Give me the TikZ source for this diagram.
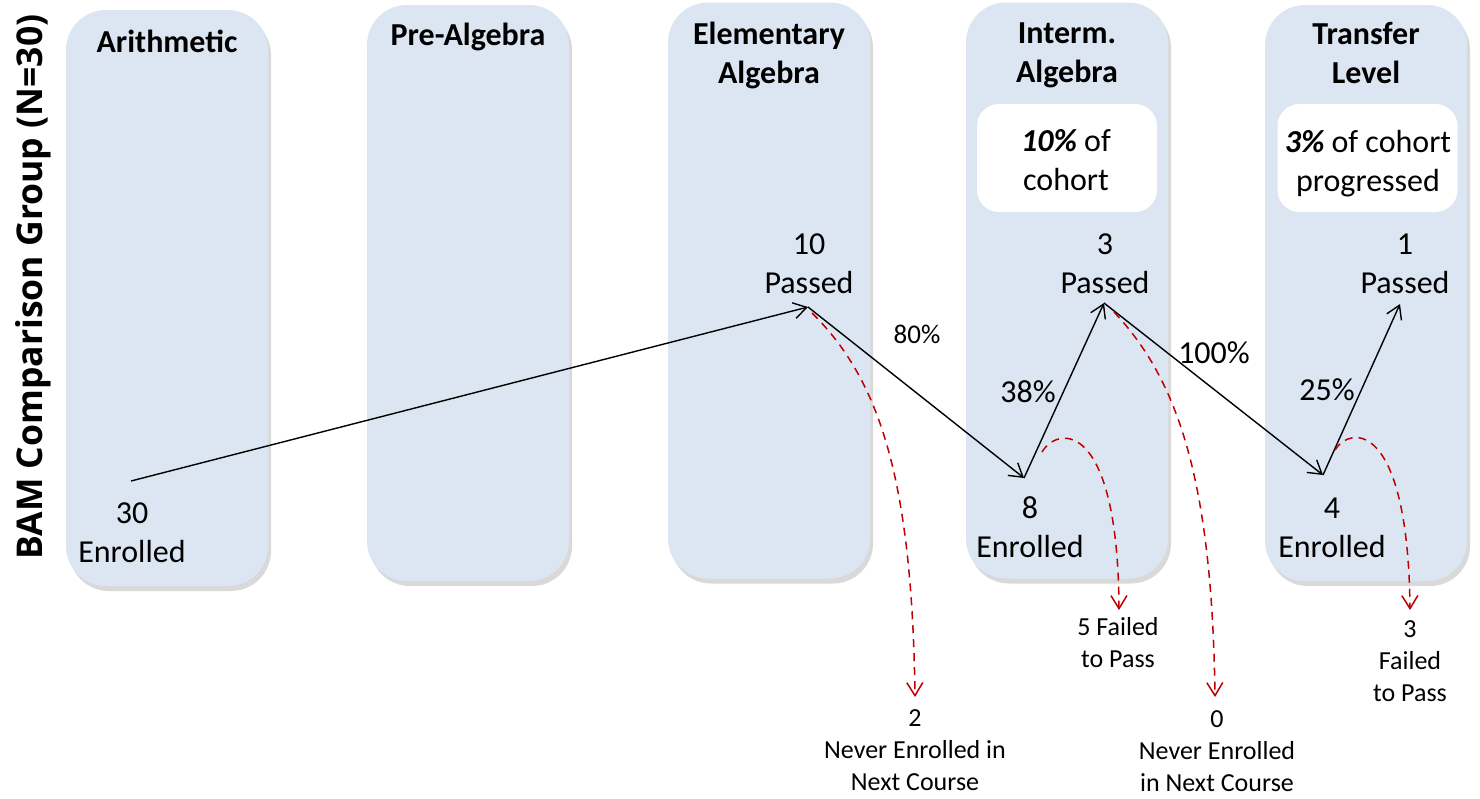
\documentclass[tikz,border=0pt]{standalone}
\usepackage{fontspec}
\setmainfont{Carlito}
\newfontfamily\titlefont{Open Sans}
\usepackage{tikz}
\usetikzlibrary{arrows.meta,shadows}
\definecolor{colfill}{HTML}{DCE6F2}
\definecolor{dropred}{HTML}{C00000}
\tikzstyle{flow}=[
  x=1pt, y=-1pt, font=\fontsize{32}{39}\selectfont
]
\tikzstyle{course}=[
  rectangle, rounded corners=40pt, fill=colfill, inner sep=0pt,
  minimum width=202pt, minimum height=576pt,
  drop shadow={shadow xshift=3pt, shadow yshift=-5pt, opacity=0.3}
]
\tikzstyle{heading}=[
  align=center, inner sep=0pt, font=\fontsize{32}{39}\selectfont\bfseries
]
\tikzstyle{share}=[
  rectangle, rounded corners=22pt, fill=white, inner sep=0pt,
  minimum width=180pt, minimum height=108pt
]
\tikzstyle{count}=[
  align=center, inner sep=0pt
]
\tikzstyle{small}=[
  align=center, inner sep=0pt, font=\fontsize{26}{32}\selectfont
]
\tikzset{
  pass/.style={line width=1.4pt, -{Straight Barb[length=13pt,width=16pt]}},
  drop/.style={dropred, line width=1.5pt, dash pattern=on 8pt off 6pt,
    -{Straight Barb[length=13pt,width=16pt]}},
  rate/.style={anchor=base, inner sep=0pt},
}

\begin{document}
\begin{tikzpicture}[flow]
    \useasboundingbox (0, 0) rectangle (1480, 798);
        \node (arith) at (167, 298) [course] {};
        \node (prealg) at (468, 293) [course] {};
        \node (elem) at (769, 290.5) [course] {};
        \node (inter) at (1067, 290.5) [course] {};
        \node (transfer) at (1366, 293) [course] {};

        \node (title) at (42, 287) [rotate=90, anchor=base, inner sep=0pt,
          font=\titlefont\fontsize{35.5}{42}\selectfont\bfseries] {BAM Comparison Group (N=30)};

        \node (arithT) at (167, 52) [heading, anchor=base] {Arithmetic};
        \node (prealgT) at (468, 45) [heading, anchor=base] {Pre-Algebra};
        \node (elemT) at (769, 55.5) [heading] {Elementary\\Algebra};
        \node (interT) at (1067, 55.5) [heading] {Interm.\\Algebra};
        \node (transferT) at (1366, 53) [heading] {Transfer\\Level};

        \node (box4) at (1067, 158) [share] {};
        \node (box5) at (1367.5, 158) [share] {};
        \node (cohort4) at (1066, 160) [count] {\textbf{\textit{10\%}} of\\cohort};
        \node (cohort5) at (1368, 164) [count] {\textbf{\textit{3\%}} of cohort\\progressed};

        \node (n30) at (132, 532.5) [count] {30\\Enrolled};
        \node (n10) at (809, 263.5) [count] {10\\Passed};
        \node (n8) at (1030, 527) [count] {8\\Enrolled};
        \node (n3) at (1105, 263.5) [count] {3\\Passed};
        \node (n4) at (1332, 528) [count] {4\\Enrolled};
        \node (n1) at (1405, 263.5) [count] {1\\Passed};

        \node (r80) at (917, 343) [rate, font=\fontsize{27}{33}\selectfont] {80\%};
        \node (r38) at (1028, 402) [rate] {38\%};
        \node (r100) at (1214, 363) [rate] {100\%};
        \node (r25) at (1327, 400) [rate] {25\%};

        \node (never2) at (915, 750) [small] {2\\Never Enrolled in\\Next Course};
        \node (fail5) at (1118, 643) [small] {5 Failed\\to Pass};
        \node (never0) at (1217, 751) [small] {0\\Never Enrolled\\in Next Course};
        \node (fail3) at (1410, 661) [small] {3\\Failed\\to Pass};

        \coordinate (e30) at (131, 481);
        \coordinate (p10) at (808, 307);
        \coordinate (e8) at (1024, 478);
        \coordinate (p3) at (1104, 303);
        \coordinate (e4) at (1323, 475);
        \coordinate (p1) at (1400, 304);
        \draw [pass] (e30) -- (p10);
        \draw [pass] (p10) -- (e8);
        \draw [pass] (e8) -- (p3);
        \draw [pass] (p3) -- (e4);
        \draw [pass] (e4) -- (p1);

        \coordinate (d10) at (812, 313);
        \coordinate (d8) at (1042, 452);
        \coordinate (d3) at (1114, 312);
        \coordinate (d4) at (1335, 450);
        \coordinate (t2) at (915, 697);
        \coordinate (t5) at (1119, 610);
        \coordinate (t0) at (1215, 697);
        \coordinate (t3) at (1410, 610);
        \draw [drop] (d10) .. controls (880, 380) and (912, 480) .. (t2);
        \draw [drop] (d8) .. controls (1058, 425) and (1118, 420) .. (t5);
        \draw [drop] (d3) .. controls (1178, 380) and (1212, 480) .. (t0);
        \draw [drop] (d4) .. controls (1350, 425) and (1408, 420) .. (t3);
\end{tikzpicture}
\end{document}
